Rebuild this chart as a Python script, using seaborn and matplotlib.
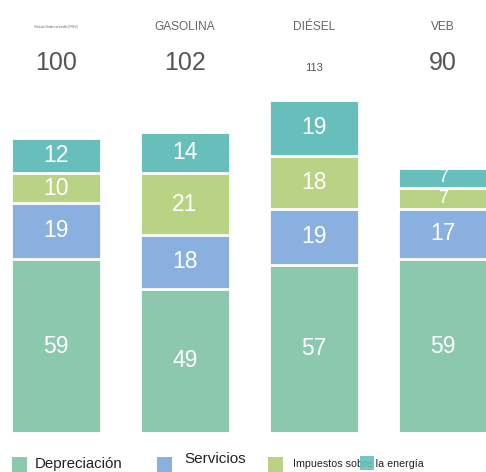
import matplotlib
matplotlib.use("Agg")
import matplotlib.pyplot as plt
import matplotlib.patches as mpatches
import numpy as np
import pandas as pd
import seaborn as sns

# Data
vehicles = ["Vehículo híbrido enchufable (PHEV)", "GASOLINA", "DIÉSEL", "VEB"]
depreciacion = [59, 49, 57, 59]
servicios = [19, 18, 19, 17]
impuestos = [10, 21, 18, 7]
energia = [12, 14, 19, 7]
totals = [100, 102, 113, 90]

components = ["Depreciación", "Servicios", "Impuestos sobre la energía", "Energía"]
colors = ["#8bc8ad", "#8ab0df", "#b9d283", "#66bfbb"]

sns.set_theme(style="white")
plt.rcParams["font.family"] = ["Liberation Sans", "DejaVu Sans"]

df = pd.DataFrame({
    "vehicle": vehicles,
    "Depreciación": depreciacion,
    "Servicios": servicios,
    "Impuestos sobre la energía": impuestos,
    "Energía": energia,
})
cum = df[components].cumsum(axis=1)

fig = plt.figure(figsize=(4.86, 4.72), dpi=100)
ax = fig.add_axes([0, 0, 1, 1])

# stacked bars by overdrawing cumulative sums, top layer first
for comp, col in reversed(list(zip(components, colors))):
    sns.barplot(x=df["vehicle"], y=cum[comp], order=vehicles, color=col,
                width=0.70, edgecolor="white", linewidth=2.0, saturation=1,
                ax=ax)

# segment labels (thin segments get a slightly smaller font)
for i in range(len(vehicles)):
    base = 0
    for comp in components:
        v = df.loc[i, comp]
        fs = 16.5 if v >= 9 else 13
        ax.text(i, base + v / 2, str(v), ha="center", va="center",
                color="white", fontsize=fs)
        base += v

# headers and totals
header_sizes = [2, 8.6, 8.6, 8.6]
for i, name in enumerate(vehicles):
    ax.text(i, 137.6, name, ha="center", va="center", color="#666666",
            fontsize=header_sizes[i])
total_sizes = [18, 18, 8, 18]
total_y = [125.6, 125.6, 123.6, 125.6]
for i, t in enumerate(totals):
    ax.text(i, total_y[i], str(t), ha="center", va="center", color="#555555",
            fontsize=total_sizes[i])

ax.set_xlim(-0.434, 3.333)
ax.set_ylim(-13.2, 146.8)
ax.axis("off")

# hand-placed legend (irregular layout in the reference)
W, H = 486, 472
legend_items = [
    (12, 457, colors[0], 35, 464, "Depreciación", 10.8),
    (157, 457, colors[1], 184, 459, "Servicios", 11),
    (268, 457, colors[2], 293, 464, "Impuestos sobre la energía", 7.7),
]
for sx, sy, col, tx, ty, label, fs in legend_items:
    fig.text(tx / W, 1 - ty / H, label, ha="left", va="center",
             fontsize=fs, color="#222222")
    fig.patches.append(mpatches.Rectangle((sx / W, 1 - (sy + 15) / H), 15 / W, 15 / H,
                                          transform=fig.transFigure,
                                          facecolor=col, edgecolor="none",
                                          figure=fig))
fig.patches.append(mpatches.Rectangle((360 / W, 1 - 470 / H), 14 / W, 14 / H,
                                      transform=fig.transFigure,
                                      facecolor=colors[3], edgecolor="none",
                                      alpha=0.9, figure=fig, zorder=5))

fig.savefig("out.png", dpi=100)
